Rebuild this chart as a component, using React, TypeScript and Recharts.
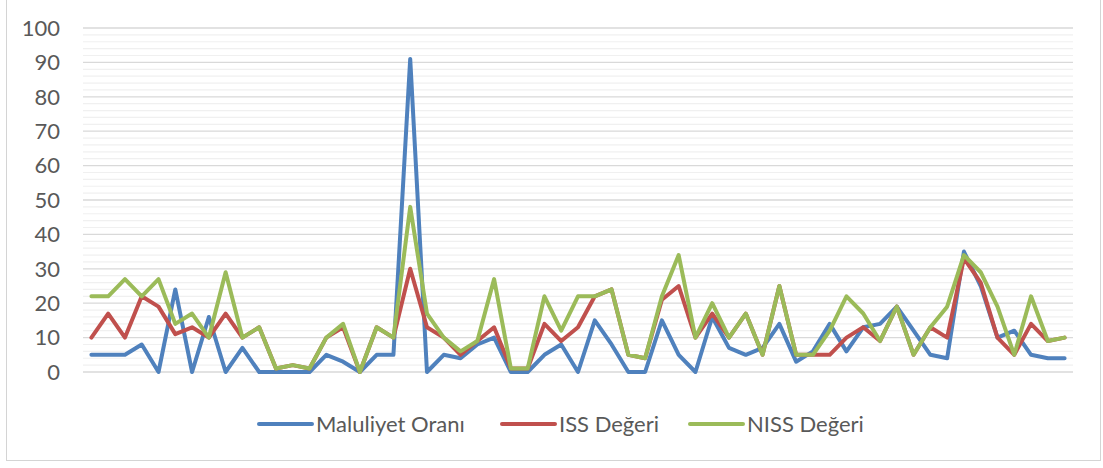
import React from 'react';
import { LineChart, Line, XAxis, YAxis, CartesianGrid, ReferenceLine, Legend } from 'recharts';

const categories: number[] = Array.from({ length: 59 }, (_, i) => i + 1);

const maluliyet: number[] = [
  5, 5, 5, 8, 0, 24, 0, 16, 0, 7, 0, 0, 0, 0, 5, 3, 0, 5, 5, 91,
  0, 5, 4, 8, 10, 0, 0, 5, 8, 0, 15, 8, 0, 0, 15, 5, 0, 16, 7, 5,
  7, 14, 3, 6, 14, 6, 13, 14, 19, 12, 5, 4, 35, 25, 10, 12, 5, 4, 4,
];
const iss: number[] = [
  10, 17, 10, 22, 19, 11, 13, 10, 17, 10, 13, 1, 2, 1, 10, 13, 0, 13, 10, 30,
  13, 10, 5, 9, 13, 1, 1, 14, 9, 13, 22, 24, 5, 4, 21, 25, 10, 17, 10, 17,
  5, 25, 5, 5, 5, 10, 13, 9, 19, 5, 13, 10, 33, 26, 10, 5, 14, 9, 10,
];
const niss: number[] = [
  22, 22, 27, 22, 27, 14, 17, 10, 29, 10, 13, 1, 2, 1, 10, 14, 0, 13, 10, 48,
  17, 10, 6, 9, 27, 1, 1, 22, 12, 22, 22, 24, 5, 4, 22, 34, 10, 20, 10, 17,
  5, 25, 5, 5, 12, 22, 17, 9, 19, 5, 13, 19, 34, 29, 19, 5, 22, 9, 10,
];

const seriesNames = ['Maluliyet Oranı', 'ISS Değeri', 'NISS Değeri'];
const seriesColors = ['#4f81bd', '#c0504d', '#9bbb59'];
const yTicks: number[] = [0, 10, 20, 30, 40, 50, 60, 70, 80, 90, 100];
const minorTicks: number[] = [2, 4, 6, 8, 12, 14, 16, 18, 22, 24, 26, 28, 32, 34, 36, 38, 42, 44, 46, 48, 52, 54, 56, 58, 62, 64, 66, 68, 72, 74, 76, 78, 82, 84, 86, 88, 92, 94, 96, 98];

const data = categories.map((c, i) => ({
  cat: c,
  m: maluliyet[i],
  iss: iss[i],
  niss: niss[i],
}));

const FONT = 'Lato, "Open Sans", sans-serif';

const legendLefts = [257, 500, 688];

const LegendContent = () => (
  <div style={{ position: 'relative', width: 1103, height: 32 }}>
    {seriesNames.map((name, i) => (
      <div
        key={name}
        style={{
          position: 'absolute',
          left: legendLefts[i],
          top: 0,
          height: 32,
          display: 'flex',
          alignItems: 'center',
          whiteSpace: 'nowrap',
        }}
      >
        <svg width={57} height={8} style={{ display: 'block' }}>
          <line x1={2} y1={4} x2={55} y2={4} stroke={seriesColors[i]} strokeWidth={4} strokeLinecap="round" />
        </svg>
        <span style={{ marginLeft: 2, fontFamily: FONT, fontSize: 22, color: '#595959', lineHeight: '32px' }}>{name}</span>
      </div>
    ))}
  </div>
);

export default function App() {
  return (
    <div style={{ position: 'absolute', left: 0, top: 0, width: 1103, height: 468, background: '#fff' }}>
      <div
        style={{
          position: 'absolute',
          left: 6,
          top: -2,
          width: 1095,
          height: 463,
          border: '1px solid #d4d4d4',
          boxSizing: 'border-box',
        }}
      />
      <div style={{ position: 'absolute', left: 0, top: 0 }}>
        <LineChart width={1103} height={468} data={data} margin={{ top: 28, right: 30, bottom: 96, left: 23 }}>
          <CartesianGrid vertical={false} stroke="#d9d9d9" strokeWidth={1.3} />
          {minorTicks.map((v) => (
            <ReferenceLine key={v} y={v} stroke="#f0f0f0" strokeWidth={1.2} ifOverflow="hidden" />
          ))}
          <XAxis dataKey="cat" hide scale="point" padding={{ left: 8.4, right: 8.4 }} />
          <YAxis
            domain={[0, 100]}
            ticks={yTicks}
            width={60}
            axisLine={false}
            tickLine={false}
            tickSize={0}
            tickMargin={23}
            interval={0}
            tick={{ fontFamily: FONT, fontSize: 22, fill: '#595959' }}
          />
          <Line dataKey="m" name={seriesNames[0]} stroke={seriesColors[0]} strokeWidth={4} dot={false} activeDot={false} strokeLinejoin="round" strokeLinecap="round" isAnimationActive={false} />
          <Line dataKey="iss" name={seriesNames[1]} stroke={seriesColors[1]} strokeWidth={4} dot={false} activeDot={false} strokeLinejoin="round" strokeLinecap="round" isAnimationActive={false} />
          <Line dataKey="niss" name={seriesNames[2]} stroke={seriesColors[2]} strokeWidth={4} dot={false} activeDot={false} strokeLinejoin="round" strokeLinecap="round" isAnimationActive={false} />
          <Legend
            layout="horizontal"
            verticalAlign="middle"
            align="center"
            content={<LegendContent />}
            wrapperStyle={{ position: 'absolute', left: 0, top: 408, width: 1103, height: 32 }}
          />
        </LineChart>
      </div>
    </div>
  );
}
